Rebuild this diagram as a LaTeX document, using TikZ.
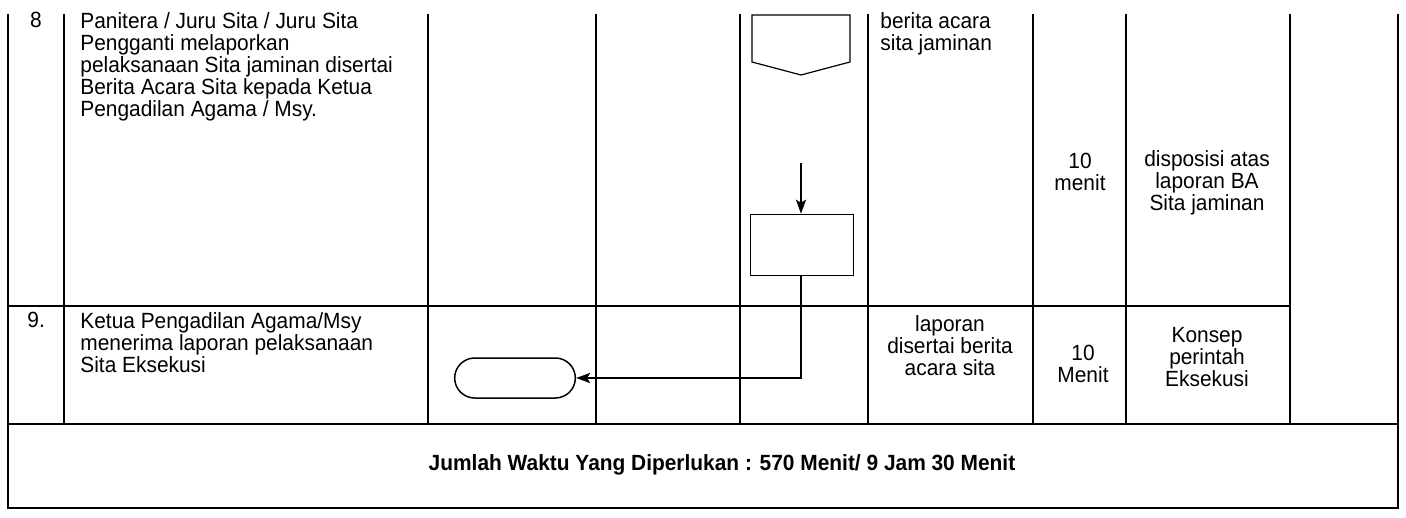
\documentclass[tikz,border=0pt]{standalone}
\usepackage{fontspec}
\setmainfont{Liberation Sans}[FakeStretch=0.95]
\usetikzlibrary{arrows.meta, positioning, shapes.misc}

\begin{document}
\begin{tikzpicture}[
  x=0.5pt, y=-0.5pt,
  font=\fontsize{11}{11}\selectfont,
  grid/.style={line width=0.85pt, black},
  cell/.style={inner sep=0pt, align=left},
  mid/.style={inner sep=0pt, align=center},
  proc/.style={rectangle, draw, line width=0.75pt, minimum width=51.5pt, minimum height=30.5pt},
  term/.style={rounded rectangle, draw, line width=0.75pt, minimum width=67pt, minimum height=20pt},
  arrow/.style={-{Stealth[length=7pt, width=5pt, inset=1.5pt]}, line width=1.1pt}
]
  \useasboundingbox (0,0) rectangle (1406,518);

  % table
  \foreach \x in {64,428,596,740,868,1033,1126,1290}
    \draw[grid] (\x,14) -- (\x,424);
  \draw[grid] (8,14) -- (8,508) -- (1398,508) -- (1398,14);
  \draw[grid] (8,306) -- (1290,306);
  \draw[grid] (8,424) -- (1398,424);

  % row 8
  \node[cell, anchor=north] (n8) at (36,12) {8};
  \node[cell, anchor=north west] (d8) at (80,12) {Panitera / Juru Sita / Juru Sita\\Pengganti melaporkan\\pelaksanaan Sita jaminan disertai\\Berita Acara Sita kepada Ketua\\Pengadilan Agama / Msy.};
  \node[cell, anchor=north west] (doc8) at (880,12) {berita acara\\sita jaminan};
  \node[mid] (t8) at (1080,172) {10\\menit};
  \node[mid] (o8) at (1207,183) {disposisi atas\\laporan BA\\Sita jaminan};

  % off-page connector
  \draw[line width=0.6pt] (752,15) -- (850,15) -- (850,62) -- (801,75) -- (752,62) -- cycle;

  \coordinate (in8) at (801,163);
  \node[proc] (box8) at (802,245) {};
  \draw[arrow] (in8) -- (box8.north -| in8);

  % row 9
  \node[cell, anchor=north west] (n9) at (27,312) {9.};
  \node[cell, anchor=north west] (d9) at (80,312) {Ketua Pengadilan Agama/Msy\\menerima laporan pelaksanaan\\Sita Eksekusi};
  \node[mid] (doc9) at (950,346) {laporan\\disertai berita\\acara sita};
  \node[mid] (t9) at (1083,364) {10\\Menit};
  \node[mid] (o9) at (1207,357) {Konsep\\perintah\\Eksekusi};

  \node[term] (end9) at (515,378) {};
  \draw[arrow] (box8.south -| in8) |- (end9.east);

  \node[mid, font=\fontsize{11}{11}\selectfont\bfseries] (sum) at (722,465) {Jumlah Waktu Yang Diperlukan : 570 Menit/ 9 Jam 30 Menit};
\end{tikzpicture}
\end{document}
